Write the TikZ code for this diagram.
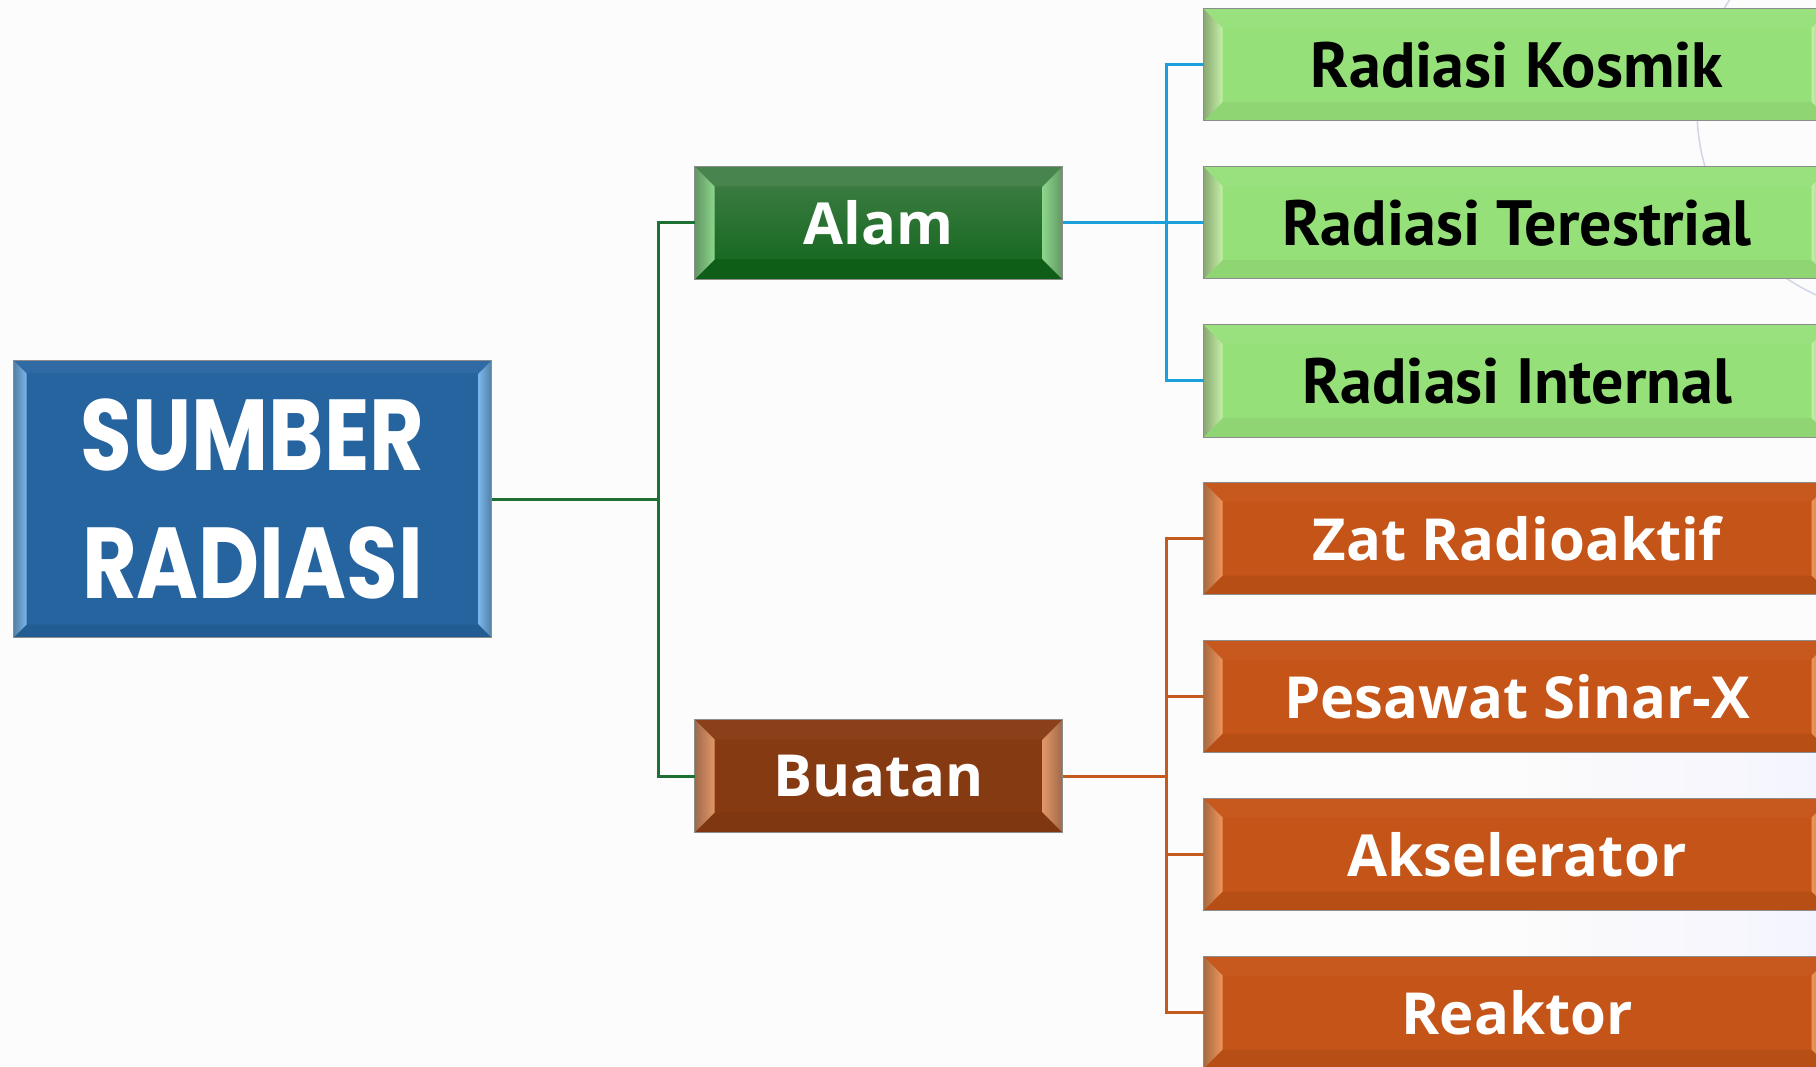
\documentclass[tikz,border=0pt]{standalone}
\usepackage{fontspec}
\setmainfont{Open Sans}
\newfontfamily\leaffont{PT Sans}
\newfontfamily\rootfont{Poppins}
\usetikzlibrary{calc}
\definecolor{rootblue}{RGB}{38,100,160}
\definecolor{rootbvl}{RGB}{120,182,235}
\definecolor{alamtop}{RGB}{66,128,72}
\definecolor{alambot}{RGB}{16,100,26}
\definecolor{alambvl}{RGB}{140,214,140}
\definecolor{buatan}{RGB}{134,58,18}
\definecolor{buatanbvl}{RGB}{226,150,104}
\definecolor{leafg}{RGB}{150,224,122}
\definecolor{leafgbvl}{RGB}{196,240,166}
\definecolor{leafgbd}{RGB}{110,160,90}
\definecolor{leafo}{RGB}{197,84,24}
\definecolor{leafobvl}{RGB}{238,150,92}
\definecolor{lgreen}{RGB}{30,112,50}
\definecolor{lblue}{RGB}{27,160,220}
\definecolor{lorange}{RGB}{197,90,30}
\tikzset{
  box/.style={rectangle, inner sep=0pt, align=center, draw=#1, line width=1pt},
  rootbox/.style={box=rootblue!70!black, fill=rootblue, minimum width=477pt, minimum height=276pt,
     text=white, font=\rootfont\bfseries\fontsize{84}{122}\selectfont},
  alambox/.style={box=alambot!70!black, top color=alamtop, bottom color=alambot, minimum width=367pt, minimum height=112pt,
     text=white, font=\bfseries\fontsize{58}{60}\selectfont},
  buatanbox/.style={box=buatan!70!black, fill=buatan, minimum width=367pt, minimum height=112pt,
     text=white, font=\bfseries\fontsize{58}{60}\selectfont},
  gleaf/.style={box=leafgbd, fill=leafg, minimum width=626pt, minimum height=111pt,
     text=black, font=\leaffont\bfseries\fontsize{64}{66}\selectfont},
  oleaf/.style={box=leafo!70!black, fill=leafo, minimum width=626pt, minimum height=111pt,
     text=white, font=\bfseries\fontsize{58}{60}\selectfont},
  conn/.style={line width=3pt, draw=#1},
}
\newcommand\bvl[5]{%
  \fill[#4] (#1.north west) -- (#1.north east) -- ([xshift=-#2,yshift=-#2]#1.north east) -- ([xshift=#2,yshift=-#2]#1.north west) -- cycle;
  \fill[#5] (#1.south west) -- (#1.south east) -- ([xshift=-#2,yshift=#2]#1.south east) -- ([xshift=#2,yshift=#2]#1.south west) -- cycle;
  \shade[left color=#3!70!black, right color=#3] (#1.north west) -- ([xshift=#2,yshift=-#2]#1.north west) -- ([xshift=#2,yshift=#2]#1.south west) -- (#1.south west) -- cycle;
  \shade[left color=#3, right color=#3!70!black] (#1.north east) -- ([xshift=-#2,yshift=-#2]#1.north east) -- ([xshift=-#2,yshift=#2]#1.south east) -- (#1.south east) -- cycle;
  \draw[black!45, line width=1pt] (#1.north west) rectangle (#1.south east);
}
\begin{document}
\begin{tikzpicture}[x=1pt,y=-1pt]
\useasboundingbox (0,0) rectangle (1816,1067);
\fill[white!98!gray] (0,0) rectangle (1816,1067);
\shade[left color=white!98!gray, right color=blue!5!white, opacity=0.7] (1500,640) rectangle (1816,1067);
\begin{scope}
\clip (0,0) rectangle (1816,1067);
\draw[line width=1.5pt, color={rgb,255:red,208;green,214;blue,230}] (1900,110) circle[radius=203pt];

% nodes
\node[rootbox] (root) at (252.5,499) {\scalebox{1}[1.2]{SUMBER}\\[6pt]\scalebox{1}[1.2]{RADIASI}};
\node[alambox] (alam) at (878.5,223) {Alam};
\node[buatanbox] (buatan) at (878.5,776) {Buatan};
\node[gleaf] (k1) at (1517,65) {Radiasi Kosmik};
\node[gleaf] (k2) at (1517,223) {Radiasi Terestrial};
\node[gleaf] (k3) at (1517,381) {Radiasi Internal};
\node[oleaf] (o1) at (1517,538.5) {Zat Radioaktif};
\node[oleaf] (o2) at (1517,696.5) {Pesawat Sinar-X};
\node[oleaf] (o3) at (1517,854.5) {Akselerator};
\node[oleaf] (o4) at (1517,1012.5) {Reaktor};

% bevels
\bvl{root}{13pt}{rootbvl}{rootblue!96!white}{rootblue!92!black}
\bvl{alam}{20pt}{alambvl}{alamtop!97!white}{alambot!94!black}
\bvl{buatan}{20pt}{buatanbvl}{buatan!97!white}{buatan!94!black}
\foreach \n in {k1,k2,k3}{\bvl{\n}{19pt}{leafgbvl}{leafg!97!white}{leafg!95!black}}
\foreach \n in {o1,o2,o3,o4}{\bvl{\n}{19pt}{leafobvl}{leafo!97!white}{leafo!93!black}}

% junctions
\coordinate (jg) at (658,499);
\coordinate (jb) at (1166,223);
\coordinate (jo) at (1166,776);

% connectors
\draw[conn=lgreen] (root.east) -- (jg);
\draw[conn=lgreen] (alam.west) -| (jg);
\draw[conn=lgreen] (buatan.west) -| (jg);

\draw[conn=lblue] (alam.east) -- (jb);
\draw[conn=lblue] (k1.west) -| (jb);
\draw[conn=lblue] (k2.west) -- (jb);
\draw[conn=lblue] (k3.west) -| (jb);

\draw[conn=lorange] (buatan.east) -- (jo);
\draw[conn=lorange] (o1.west) -| (jo);
\draw[conn=lorange] (o2.west) -| (jo);
\draw[conn=lorange] (o3.west) -| (jo);
\draw[conn=lorange] (o4.west) -| (jo);
\end{scope}
\end{tikzpicture}
\end{document}
